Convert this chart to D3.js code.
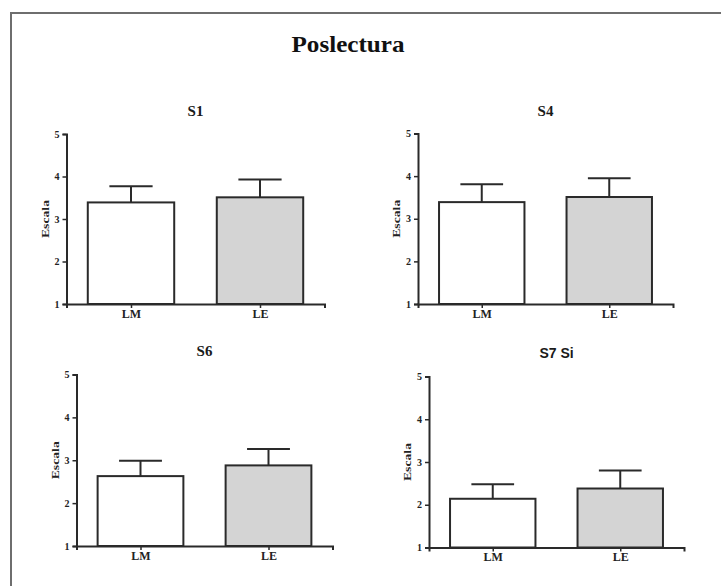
<!DOCTYPE html>
<html>
<head>
<meta charset="utf-8">
<script src="https://cdn.jsdelivr.net/npm/d3@7"></script>
<style>
  body { margin: 0; background: #fff; }
  svg { display: block; }
</style>
</head>
<body>
<svg id="chart" width="721" height="586"></svg>
<script>
// chart data
const mainTitle = "Poslectura";
const categories = ["LM", "LE"];
const panelTitles = ["S1", "S4", "S6", "S7 Si"];
const meansS1 = [3.39, 3.51];
const meansS4 = [3.39, 3.51];
const meansS6 = [2.63, 2.88];
const meansS7 = [2.14, 2.38];
const errS1 = [0.38, 0.42];
const errS4 = [0.42, 0.44];
const errS6 = [0.36, 0.38];
const errS7 = [0.34, 0.42];
const yTicks = [1, 2, 3, 4, 5];
const yLabel = "Escala";

const svg = d3.select("#chart");

//frame (only top and left edges are visible in the crop)
svg.append("path")
  .attr("d", "M11,586 V13 H721")
  .attr("fill", "none")
  .attr("stroke", "#6e6e6e")
  .attr("stroke-width", 2);

svg.append("text")
  .attr("x", 348)
  .attr("y", 52)
  .attr("text-anchor", "middle")
  .attr("font-family", "Liberation Serif, serif")
  .attr("font-weight", "bold")
  .attr("font-size", 23)
  .attr("textLength", 113)
  .attr("lengthAdjust", "spacingAndGlyphs")
  .attr("fill", "#111")
  .text(mainTitle);

// panel boxes: left, top, width, height of the plot area
const panels = [
  { title: panelTitles[0], means: meansS1, errs: errS1, left: 66.5, top: 134, w: 258, h: 170, titleY: 116, sans: false },
  { title: panelTitles[1], means: meansS4, errs: errS4, left: 418, top: 133.5, w: 255, h: 170.5, titleY: 116, sans: false },
  { title: panelTitles[2], means: meansS6, errs: errS6, left: 76.5, top: 374.5, w: 256, h: 171.5, titleY: 356, sans: false },
  { title: panelTitles[3], means: meansS7, errs: errS7, left: 429, top: 376.5, w: 255, h: 171, titleY: 358, sans: true }
];

const ink = "#2a2a2a";

panels.forEach((p) => {
  const g = svg.append("g").attr("transform", `translate(${p.left},${p.top})`);

  const x = d3.scalePoint().domain(categories).range([0, p.w]).padding(0.5);
  const y = d3.scaleLinear().domain([1, 5]).range([p.h, 0]);
  const barW = x.step() * 0.67;

  // bars
  g.selectAll("rect.bar")
    .data(categories)
    .enter()
    .append("rect")
    .attr("class", "bar")
    .attr("x", (d) => x(d) - barW / 2)
    .attr("y", (d, i) => y(p.means[i]))
    .attr("width", barW)
    .attr("height", (d, i) => y(1) - y(p.means[i]))
    .attr("fill", (d, i) => (i === 0 ? "#ffffff" : "#d4d4d4"))
    .attr("stroke", ink)
    .attr("stroke-width", 2);

  // error bars (upper only)
  g.selectAll("line.err")
    .data(categories)
    .enter()
    .append("line")
    .attr("class", "err")
    .attr("x1", (d) => x(d))
    .attr("x2", (d) => x(d))
    .attr("y1", (d, i) => y(p.means[i]))
    .attr("y2", (d, i) => y(p.means[i] + p.errs[i]))
    .attr("stroke", ink)
    .attr("stroke-width", 2);

  g.selectAll("line.cap")
    .data(categories)
    .enter()
    .append("line")
    .attr("class", "cap")
    .attr("x1", (d) => x(d) - barW / 4)
    .attr("x2", (d) => x(d) + barW / 4)
    .attr("y1", (d, i) => y(p.means[i] + p.errs[i]))
    .attr("y2", (d, i) => y(p.means[i] + p.errs[i]))
    .attr("stroke", ink)
    .attr("stroke-width", 2);

  // axes
  const yAxis = g.append("g")
    .call(d3.axisLeft(y).tickValues(yTicks).tickFormat(d3.format("d")).tickSize(4).tickPadding(3));
  const xAxis = g.append("g")
    .attr("transform", `translate(0,${p.h})`)
    .call(d3.axisBottom(x).tickSize(4).tickPadding(1));

  [yAxis, xAxis].forEach((ax) => {
    ax.select(".domain").attr("stroke", ink).attr("stroke-width", 2);
    ax.selectAll(".tick line").attr("stroke", ink).attr("stroke-width", 1.5);
    ax.selectAll("text")
      .attr("fill", "#222")
      .attr("font-family", "Liberation Serif, serif")
      .attr("font-weight", "bold");
  });
  yAxis.selectAll("text").attr("font-size", 10);
  xAxis.selectAll("text").attr("font-size", 12);

  // y label
  g.append("text")
    .attr("transform", `translate(-18,${p.h / 2}) rotate(-90)`)
    .attr("text-anchor", "middle")
    .attr("font-family", "Liberation Serif, serif")
    .attr("font-weight", "bold")
    .attr("font-size", 11)
    .attr("textLength", 38)
    .attr("lengthAdjust", "spacingAndGlyphs")
    .attr("fill", "#222")
    .text(yLabel);

  // panel title
  svg.append("text")
    .attr("x", p.left + p.w / 2)
    .attr("y", p.titleY)
    .attr("text-anchor", "middle")
    .attr("font-family", p.sans ? "Liberation Sans, sans-serif" : "Liberation Serif, serif")
    .attr("font-weight", "bold")
    .attr("font-size", p.sans ? 14 : 15)
    .attr("fill", "#1a1a1a")
    .text(p.title);
});
</script>
</body>
</html>
